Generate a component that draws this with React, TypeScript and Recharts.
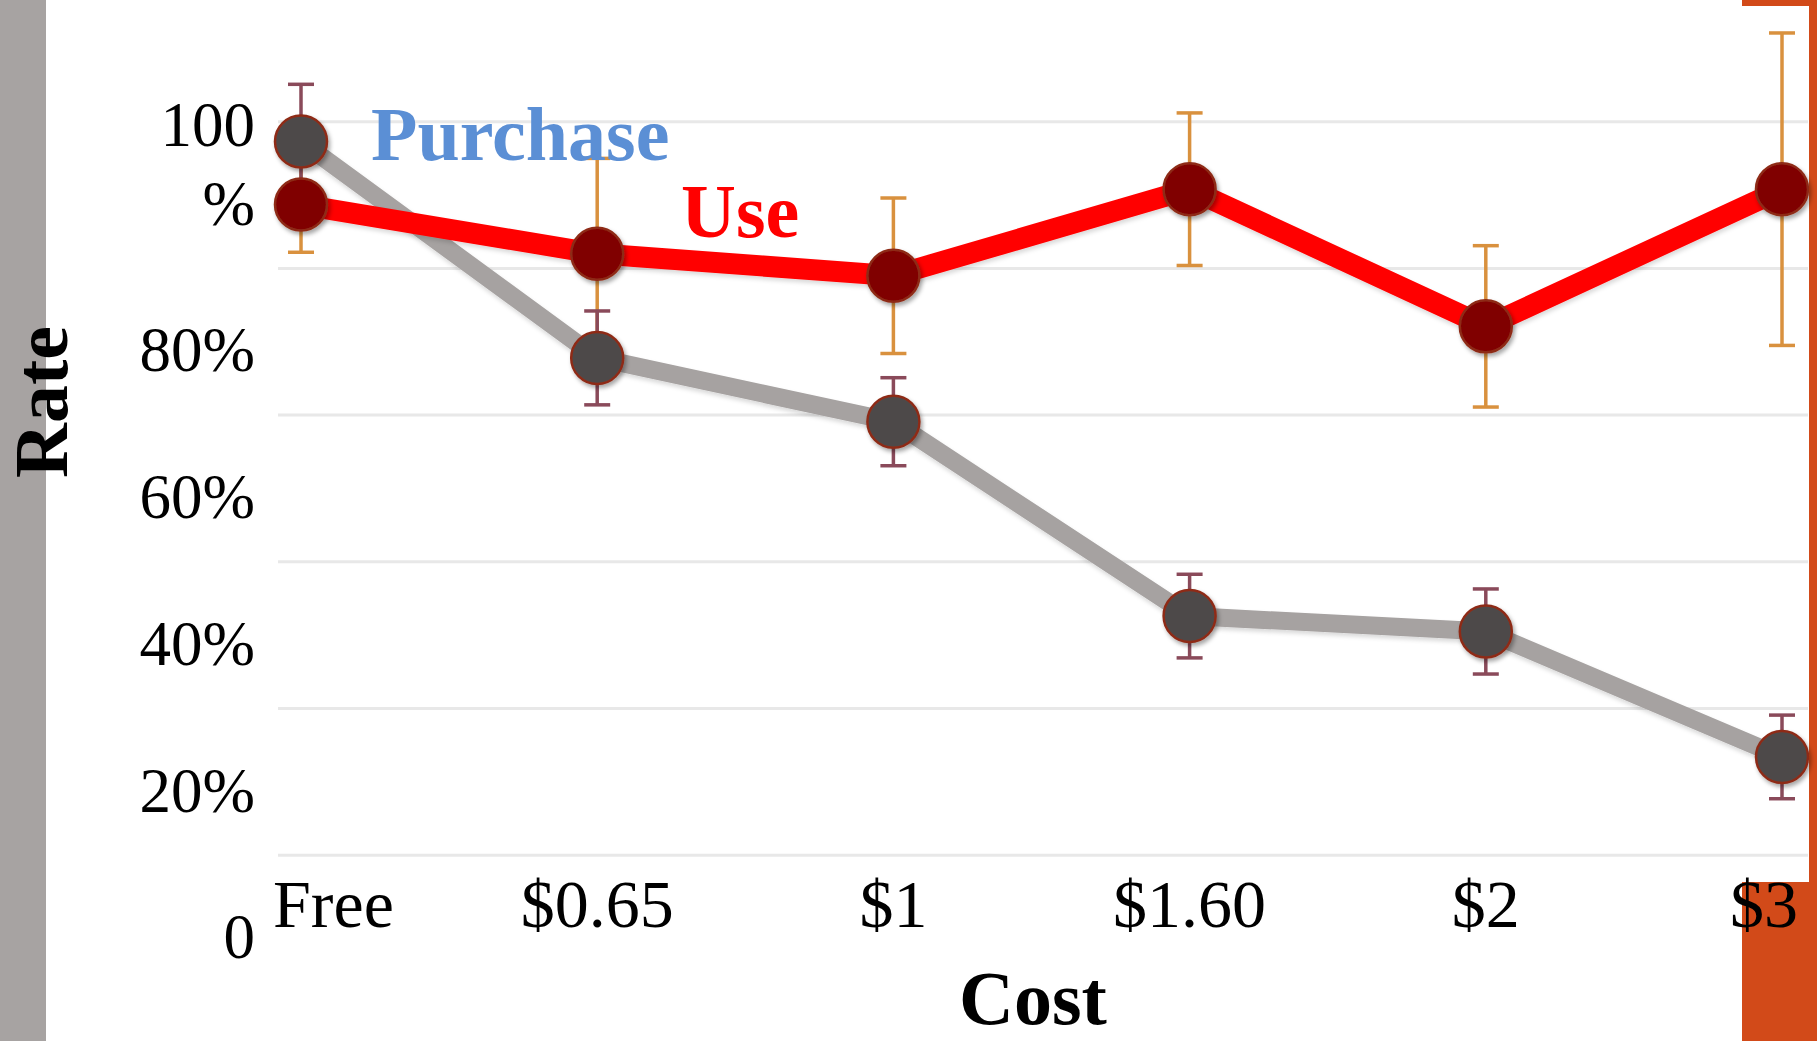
import React from 'react'
import { LineChart, Line, XAxis, YAxis, ErrorBar, ReferenceLine } from 'recharts'

// Price points tested and the two measured rates (percent), with ± error
const costs = ['Free', '$0.65', '$1', '$1.60', '$2', '$3']
const purchaseRate = [97.3, 67.8, 59.1, 32.6, 30.5, 13.4]
const purchaseErr = [7.8, 6.4, 6.0, 5.7, 5.8, 5.7]
const useRate = [88.7, 82.0, 79.0, 90.8, 72.1, 90.8]
const useErr = [6.5, 13.0, 10.6, 10.4, 11.0, 21.3]
const rateTicks = [0, 20, 40, 60, 80, 100]

const rows = costs.map((cost, i) => ({
  cost,
  purchase: purchaseRate[i],
  purchaseErr: purchaseErr[i],
  use: useRate[i],
  useErr: useErr[i],
}))

const W = 1817
const H = 1041
const SERIF = '"Liberation Serif", "Times New Roman", serif'

// y axis runs a bit past 100% so the widest error bar has room above the top gridline
const Y_MAX = 115

const GRAY_LINE = '#a6a2a1'
const RED_LINE = '#ff0000'
const PURCHASE_DOT = '#4e4a4a'
const USE_DOT = '#800000'
const DOT_EDGE = '#8e2c18'
const PURCHASE_ERR = '#8a4a5a'
const USE_ERR = '#d9913e'
const ORANGE = '#d24a19'

// eslint-disable-next-line @typescript-eslint/no-explicit-any
function RateTick({ x, y, payload }: any) {
  const v = payload.value as number
  const base = y + 103
  if (v === 100) {
    // the top label wraps onto two lines
    return (
      <text x={x} y={base - 79} textAnchor="end" fontFamily={SERIF} fontSize={63} fill="#000">
        <tspan x={x}>100</tspan>
        <tspan x={x} dy={79}>%</tspan>
      </text>
    )
  }
  return (
    <text x={x} y={base} textAnchor="end" fontFamily={SERIF} fontSize={63} fill="#000">
      {v === 0 ? '0' : `${v}%`}
    </text>
  )
}

// eslint-disable-next-line @typescript-eslint/no-explicit-any
function CostTick({ x, y, payload, index }: any) {
  const first = index === 0
  const last = index === costs.length - 1
  let tx = x
  let anchor: 'start' | 'middle' | 'end' = 'middle'
  if (first) {
    tx = x - 28
    anchor = 'start'
  } else if (last) {
    tx = x + 16
    anchor = 'end'
  }
  return (
    <text x={tx} y={y + 72} textAnchor={anchor} fontFamily={SERIF} fontSize={68} fill="#000">
      {payload.value}
    </text>
  )
}

const makeDot = (fill: string) =>
  // eslint-disable-next-line @typescript-eslint/no-explicit-any
  (props: any) => (
    <circle
      key={`${fill}-${props.index}`}
      cx={props.cx}
      cy={props.cy}
      r={26}
      fill={fill}
      stroke={DOT_EDGE}
      strokeWidth={2.5}
      filter="url(#dotShadow)"
    />
  )

export default function App() {
  return (
    <div
      style={{
        position: 'absolute',
        left: 0,
        top: 0,
        width: W,
        height: H,
        overflow: 'hidden',
        background: '#fff',
      }}
    >
      {/* slide frame: grey band on the left, orange trim on the right */}
      <div style={{ position: 'absolute', left: 0, top: 0, width: 46, height: H, background: '#a7a3a2' }} />
      <div style={{ position: 'absolute', left: 1742, top: 0, width: 75, height: 6, background: ORANGE }} />
      <div style={{ position: 'absolute', left: 1809, top: 0, width: 8, height: 882, background: ORANGE }} />
      <div style={{ position: 'absolute', left: 1742, top: 882, width: 75, height: 159, background: ORANGE }} />

      <svg width={0} height={0} style={{ position: 'absolute' }}>
        <defs>
          <filter id="dotShadow" x="-40%" y="-40%" width="180%" height="180%">
            <feDropShadow dx={2} dy={3} stdDeviation={2.2} floodColor="#000" floodOpacity={0.35} />
          </filter>
          <filter id="lineShadow" x="-5%" y="-20%" width="110%" height="140%">
            <feDropShadow dx={1} dy={3} stdDeviation={2} floodColor="#000" floodOpacity={0.15} />
          </filter>
        </defs>
      </svg>

      <div style={{ position: 'absolute', left: 0, top: 0 }}>
        <LineChart
          width={W}
          height={H}
          data={rows}
          margin={{ top: 11.7, right: 9, bottom: 85.8, left: 0 }}
        >
          <XAxis
            dataKey="cost"
            padding={{ left: 23, right: 26 }}
            axisLine={false}
            tickLine={false}
            tickSize={0}
            tickMargin={0}
            interval={0}
            height={100}
            tick={<CostTick />}
          />
          <YAxis
            domain={[0, Y_MAX]}
            ticks={rateTicks}
            interval={0}
            axisLine={false}
            tickLine={false}
            tickSize={0}
            tickMargin={23}
            width={278}
            tick={<RateTick />}
          />

          {/* horizontal gridlines, one per labelled tick */}
          {rateTicks.map((v) => (
            <ReferenceLine key={`grid-${v}`} y={v} stroke="#e8e8e8" strokeWidth={3} />
          ))}

          {/* connecting lines: purchase underneath, use on top */}
          <Line
            dataKey="purchase"
            stroke={GRAY_LINE}
            strokeWidth={18}
            dot={false}
            activeDot={false}
            filter="url(#lineShadow)"
            isAnimationActive={false}
          />
          <Line
            dataKey="use"
            stroke={RED_LINE}
            strokeWidth={21}
            dot={false}
            activeDot={false}
            filter="url(#lineShadow)"
            isAnimationActive={false}
          />

          {/* error bars */}
          <Line dataKey="use" stroke="none" dot={false} activeDot={false} isAnimationActive={false}>
            <ErrorBar dataKey="useErr" width={13} strokeWidth={3.5} stroke={USE_ERR} isAnimationActive={false} />
          </Line>
          <Line dataKey="purchase" stroke="none" dot={false} activeDot={false} isAnimationActive={false}>
            <ErrorBar dataKey="purchaseErr" width={13} strokeWidth={3.5} stroke={PURCHASE_ERR} isAnimationActive={false} />
          </Line>

          {/* markers */}
          <Line dataKey="use" stroke="none" dot={makeDot(USE_DOT)} activeDot={false} isAnimationActive={false} />
          <Line dataKey="purchase" stroke="none" dot={makeDot(PURCHASE_DOT)} activeDot={false} isAnimationActive={false} />
        </LineChart>
      </div>

      <svg
        width={W}
        height={H}
        style={{ position: 'absolute', left: 0, top: 0, pointerEvents: 'none' }}
        fontFamily={SERIF}
        fontWeight="bold"
        fontSize={76}
      >
        <text x={371} y={160} fill="#5b8fd5">Purchase</text>
        <text x={681} y={237} fill={RED_LINE}>Use</text>
        <text transform="translate(67, 402) rotate(-90)" textAnchor="middle" fill="#000">Rate</text>
        <text x={1033} y={1024} textAnchor="middle" fill="#000">Cost</text>
      </svg>
    </div>
  )
}
